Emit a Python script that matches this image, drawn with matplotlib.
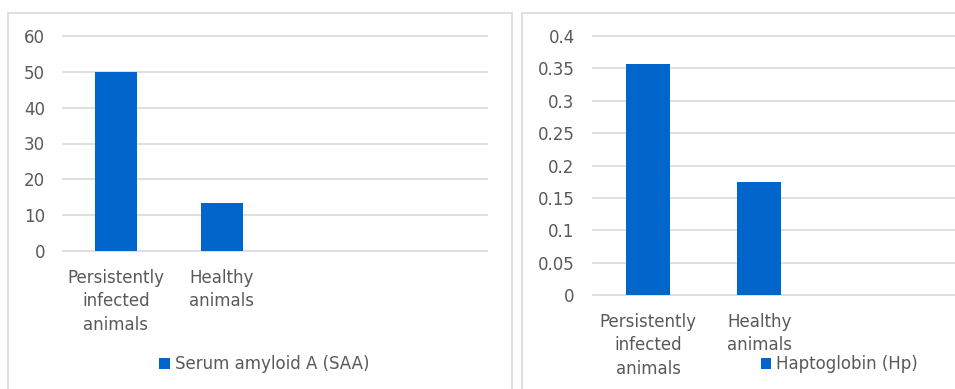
import matplotlib
matplotlib.use("Agg")
import matplotlib.pyplot as plt
from matplotlib.patches import Rectangle

# Data
categories = ["Persistently\ninfected\nanimals", "Healthy\nanimals"]
n_slots = 4  # category slots on each axis (only the first two are used)
saa_values = [50.0, 13.5]
hp_values = [0.357, 0.175]
saa_ticks = [0, 10, 20, 30, 40, 50, 60]
hp_ticks = [0, 0.05, 0.1, 0.15, 0.2, 0.25, 0.3, 0.35, 0.4]
hp_tick_labels = ["0", "0.05", "0.1", "0.15", "0.2", "0.25", "0.3", "0.35", "0.4"]
saa_label = "Serum amyloid A (SAA)"
hp_label = "Haptoglobin (Hp)"

BAR = "#0066cc"
GRID = "#d9d9d9"
TXT = "#595959"
W, H = 955, 389
FS = 12

plt.rcParams["font.family"] = ["DejaVu Sans"]

fig = plt.figure(figsize=(W / 100, H / 100), dpi=100)
fig.patch.set_facecolor("white")


def fx(px):
    return px / W


def fy(py):
    return 1 - py / H


# Panel frames
fig.patches.append(Rectangle((fx(8), fy(400)), fx(512) - fx(8), fy(13) - fy(400),
                             transform=fig.transFigure, fill=False,
                             edgecolor=GRID, linewidth=1.2))
fig.patches.append(Rectangle((fx(522), fy(400)), fx(980) - fx(522), fy(13) - fy(400),
                             transform=fig.transFigure, fill=False,
                             edgecolor=GRID, linewidth=1.2))


def make_axes(x0, x1, ytop, ybot):
    return fig.add_axes([fx(x0), fy(ybot), fx(x1) - fx(x0), fy(ytop) - fy(ybot)])


def style(ax, values, ticks, tick_labels, ymax, label, legend_x):
    x = list(range(len(values)))
    bars = ax.bar(x, values, width=0.4, color=BAR, zorder=3, label=label)
    ax.set_xlim(-0.5, n_slots - 0.5)
    ax.set_ylim(0, ymax)
    ax.set_yticks(ticks)
    ax.set_yticklabels(tick_labels)
    ax.set_xticks(x)
    ax.set_xticklabels(categories, linespacing=1.38)
    ax.grid(axis="y", color=GRID, linewidth=1.2, zorder=0)
    for gl in ax.get_ygridlines():
        gl.set_clip_on(False)
    for s in ax.spines.values():
        s.set_visible(False)
    ax.tick_params(axis="both", length=0, colors=TXT, labelsize=FS)
    ax.tick_params(axis="y", pad=13)
    ax.tick_params(axis="x", pad=13)
    fig.legend(handles=[bars], labels=[label], loc="center left",
               bbox_to_anchor=(fx(legend_x), fy(364)), frameon=False,
               borderpad=0, borderaxespad=0, handlelength=0.65,
               handleheight=0.65, handletextpad=0.3,
               prop={"size": FS}, labelcolor=TXT)
    return bars


ax1 = make_axes(63, 486.7, 36, 251)
style(ax1, saa_values, saa_ticks, [str(t) for t in saa_ticks], 60, saa_label, 159)

ax2 = make_axes(592.7, 1036.7, 36, 295)
style(ax2, hp_values, hp_ticks, hp_tick_labels, 0.4, hp_label, 760.5)

fig.savefig("out.png", dpi=100)
